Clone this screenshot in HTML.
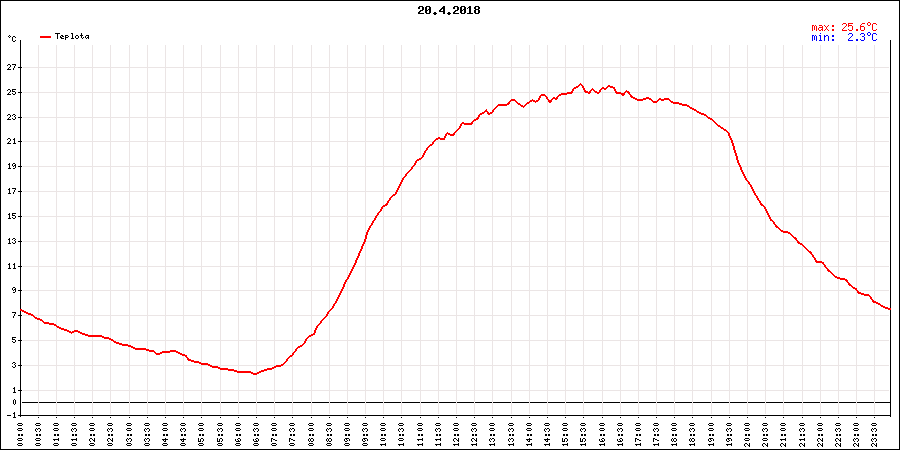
<!DOCTYPE html>
<html><head><meta charset="utf-8"><title>20.4.2018</title>
<style>html,body{margin:0;padding:0;background:#fff;font-family:"Liberation Sans",sans-serif;}svg{display:block}</style>
</head><body><svg width="900" height="450" viewBox="0 0 900 450" shape-rendering="crispEdges" role="img" aria-label="20.4.2018 Teplota"><desc>20.4.2018 — Teplota (°C). max: 25.6°C, min: 2.3°C. Osa Y: -1 až 27 °C. Osa X: 00:00 00:30 01:00 01:30 02:00 02:30 03:00 03:30 04:00 04:30 05:00 05:30 06:00 06:30 07:00 07:30 08:00 08:30 09:00 09:30 10:00 10:30 11:00 11:30 12:00 12:30 13:00 13:30 14:00 14:30 15:00 15:30 16:00 16:30 17:00 17:30 18:00 18:30 19:00 19:30 20:00 20:30 21:00 21:30 22:00 22:30 23:00 23:30</desc><rect x="0" y="0" width="900" height="1" fill="#000"/><rect x="0" y="449" width="900" height="1" fill="#000"/><rect x="0" y="0" width="1" height="450" fill="#000"/><rect x="899" y="0" width="1" height="450" fill="#000"/><rect x="22" y="402" width="869" height="1" fill="#000"/><path d="M23 67h866v1h-866zM23 92h866v1h-866zM23 117h866v1h-866zM23 141h866v1h-866zM23 166h866v1h-866zM23 191h866v1h-866zM23 216h866v1h-866zM23 241h866v1h-866zM23 266h866v1h-866zM23 290h866v1h-866zM23 315h866v1h-866zM23 340h866v1h-866zM23 365h866v1h-866zM23 390h866v1h-866zM38 45h1v369h-1zM56 45h1v369h-1zM74 45h1v369h-1zM92 45h1v369h-1zM110 45h1v369h-1zM129 45h1v369h-1zM147 45h1v369h-1zM165 45h1v369h-1zM183 45h1v369h-1zM201 45h1v369h-1zM220 45h1v369h-1zM238 45h1v369h-1zM256 45h1v369h-1zM274 45h1v369h-1zM292 45h1v369h-1zM311 45h1v369h-1zM329 45h1v369h-1zM347 45h1v369h-1zM365 45h1v369h-1zM383 45h1v369h-1zM401 45h1v369h-1zM420 45h1v369h-1zM438 45h1v369h-1zM456 45h1v369h-1zM474 45h1v369h-1zM492 45h1v369h-1zM511 45h1v369h-1zM529 45h1v369h-1zM547 45h1v369h-1zM565 45h1v369h-1zM583 45h1v369h-1zM602 45h1v369h-1zM620 45h1v369h-1zM638 45h1v369h-1zM656 45h1v369h-1zM674 45h1v369h-1zM692 45h1v369h-1zM711 45h1v369h-1zM729 45h1v369h-1zM747 45h1v369h-1zM765 45h1v369h-1zM783 45h1v369h-1zM802 45h1v369h-1zM820 45h1v369h-1zM838 45h1v369h-1zM856 45h1v369h-1zM874 45h1v369h-1z" fill="#ebe5e5"/><path d="M20 40h1v377h-1zM890 40h1v377h-1zM18 415h873v1h-873zM18 67h4v1h-4zM18 92h4v1h-4zM18 117h4v1h-4zM18 141h4v1h-4zM18 166h4v1h-4zM18 191h4v1h-4zM18 216h4v1h-4zM18 241h4v1h-4zM18 266h4v1h-4zM18 290h4v1h-4zM18 315h4v1h-4zM18 340h4v1h-4zM18 365h4v1h-4zM18 390h4v1h-4zM18 415h4v1h-4zM38 417h1v1h-1zM56 417h1v1h-1zM74 417h1v1h-1zM92 417h1v1h-1zM110 417h1v1h-1zM129 417h1v1h-1zM147 417h1v1h-1zM165 417h1v1h-1zM183 417h1v1h-1zM201 417h1v1h-1zM220 417h1v1h-1zM238 417h1v1h-1zM256 417h1v1h-1zM274 417h1v1h-1zM292 417h1v1h-1zM311 417h1v1h-1zM329 417h1v1h-1zM347 417h1v1h-1zM365 417h1v1h-1zM383 417h1v1h-1zM401 417h1v1h-1zM420 417h1v1h-1zM438 417h1v1h-1zM456 417h1v1h-1zM474 417h1v1h-1zM492 417h1v1h-1zM511 417h1v1h-1zM529 417h1v1h-1zM547 417h1v1h-1zM565 417h1v1h-1zM583 417h1v1h-1zM602 417h1v1h-1zM620 417h1v1h-1zM638 417h1v1h-1zM656 417h1v1h-1zM674 417h1v1h-1zM692 417h1v1h-1zM711 417h1v1h-1zM729 417h1v1h-1zM747 417h1v1h-1zM765 417h1v1h-1zM783 417h1v1h-1zM802 417h1v1h-1zM820 417h1v1h-1zM838 417h1v1h-1zM856 417h1v1h-1zM874 417h1v1h-1z" fill="#000"/><path d="M580 83h1v1h-1zM579 84h3v1h-3zM578 85h2v1h-2zM581 85h2v1h-2zM608 85h2v1h-2zM576 86h3v1h-3zM582 86h2v1h-2zM607 86h6v1h-6zM574 87h4v1h-4zM582 87h2v1h-2zM602 87h2v1h-2zM606 87h2v1h-2zM610 87h5v1h-5zM573 88h3v1h-3zM583 88h2v1h-2zM592 88h1v1h-1zM601 88h6v1h-6zM613 88h2v1h-2zM572 89h2v1h-2zM583 89h2v1h-2zM591 89h3v1h-3zM600 89h2v1h-2zM604 89h2v1h-2zM614 89h2v1h-2zM572 90h2v1h-2zM584 90h2v1h-2zM590 90h2v1h-2zM593 90h2v1h-2zM599 90h2v1h-2zM614 90h2v1h-2zM626 90h1v1h-1zM571 91h2v1h-2zM584 91h4v1h-4zM589 91h2v1h-2zM594 91h3v1h-3zM599 91h2v1h-2zM615 91h2v1h-2zM625 91h4v1h-4zM567 92h6v1h-6zM585 92h6v1h-6zM595 92h5v1h-5zM615 92h6v1h-6zM624 92h2v1h-2zM627 92h3v1h-3zM561 93h11v1h-11zM588 93h2v1h-2zM597 93h2v1h-2zM616 93h9v1h-9zM628 93h2v1h-2zM541 94h4v1h-4zM559 94h8v1h-8zM621 94h4v1h-4zM629 94h2v1h-2zM540 95h6v1h-6zM558 95h3v1h-3zM622 95h2v1h-2zM630 95h2v1h-2zM539 96h2v1h-2zM545 96h2v1h-2zM557 96h2v1h-2zM630 96h3v1h-3zM539 97h2v1h-2zM546 97h2v1h-2zM553 97h2v1h-2zM556 97h2v1h-2zM631 97h4v1h-4zM646 97h3v1h-3zM538 98h2v1h-2zM546 98h2v1h-2zM552 98h6v1h-6zM633 98h4v1h-4zM643 98h8v1h-8zM659 98h2v1h-2zM664 98h5v1h-5zM511 99h4v1h-4zM532 99h1v1h-1zM538 99h2v1h-2zM547 99h2v1h-2zM551 99h2v1h-2zM555 99h2v1h-2zM635 99h11v1h-11zM649 99h3v1h-3zM658 99h12v1h-12zM510 100h6v1h-6zM530 100h5v1h-5zM536 100h3v1h-3zM548 100h4v1h-4zM637 100h6v1h-6zM651 100h2v1h-2zM657 100h2v1h-2zM661 100h3v1h-3zM669 100h2v1h-2zM509 101h2v1h-2zM515 101h2v1h-2zM529 101h3v1h-3zM533 101h5v1h-5zM548 101h4v1h-4zM652 101h6v1h-6zM670 101h3v1h-3zM508 102h2v1h-2zM516 102h2v1h-2zM527 102h3v1h-3zM535 102h1v1h-1zM549 102h2v1h-2zM653 102h4v1h-4zM671 102h8v1h-8zM507 103h3v1h-3zM517 103h3v1h-3zM526 103h3v1h-3zM673 103h9v1h-9zM498 104h11v1h-11zM518 104h3v1h-3zM525 104h2v1h-2zM679 104h8v1h-8zM497 105h10v1h-10zM520 105h3v1h-3zM524 105h2v1h-2zM682 105h7v1h-7zM496 106h2v1h-2zM521 106h4v1h-4zM687 106h3v1h-3zM495 107h2v1h-2zM523 107h1v1h-1zM689 107h3v1h-3zM494 108h2v1h-2zM690 108h4v1h-4zM486 109h1v1h-1zM493 109h2v1h-2zM692 109h4v1h-4zM485 110h2v1h-2zM492 110h2v1h-2zM694 110h3v1h-3zM484 111h4v1h-4zM492 111h2v1h-2zM696 111h3v1h-3zM482 112h3v1h-3zM487 112h2v1h-2zM490 112h3v1h-3zM697 112h4v1h-4zM480 113h4v1h-4zM487 113h5v1h-5zM699 113h5v1h-5zM479 114h3v1h-3zM488 114h2v1h-2zM701 114h5v1h-5zM478 115h2v1h-2zM704 115h3v1h-3zM478 116h2v1h-2zM706 116h2v1h-2zM477 117h2v1h-2zM707 117h3v1h-3zM476 118h3v1h-3zM708 118h4v1h-4zM474 119h4v1h-4zM710 119h3v1h-3zM473 120h3v1h-3zM712 120h2v1h-2zM472 121h2v1h-2zM713 121h2v1h-2zM462 122h2v1h-2zM471 122h2v1h-2zM714 122h2v1h-2zM461 123h12v1h-12zM715 123h2v1h-2zM460 124h2v1h-2zM464 124h8v1h-8zM716 124h2v1h-2zM460 125h2v1h-2zM717 125h3v1h-3zM459 126h2v1h-2zM718 126h3v1h-3zM459 127h2v1h-2zM720 127h3v1h-3zM458 128h2v1h-2zM721 128h3v1h-3zM457 129h2v1h-2zM723 129h3v1h-3zM456 130h2v1h-2zM724 130h3v1h-3zM455 131h2v1h-2zM726 131h2v1h-2zM447 132h1v1h-1zM454 132h2v1h-2zM727 132h2v1h-2zM446 133h4v1h-4zM453 133h2v1h-2zM728 133h2v1h-2zM445 134h2v1h-2zM448 134h7v1h-7zM728 134h2v1h-2zM445 135h2v1h-2zM450 135h4v1h-4zM728 135h2v1h-2zM444 136h2v1h-2zM729 136h2v1h-2zM438 137h2v1h-2zM444 137h2v1h-2zM729 137h2v1h-2zM436 138h9v1h-9zM730 138h2v1h-2zM435 139h3v1h-3zM440 139h5v1h-5zM730 139h2v1h-2zM434 140h2v1h-2zM731 140h2v1h-2zM433 141h2v1h-2zM731 141h2v1h-2zM432 142h2v1h-2zM731 142h2v1h-2zM432 143h2v1h-2zM732 143h2v1h-2zM430 144h3v1h-3zM732 144h2v1h-2zM429 145h3v1h-3zM732 145h2v1h-2zM428 146h2v1h-2zM733 146h2v1h-2zM427 147h2v1h-2zM733 147h2v1h-2zM426 148h2v1h-2zM733 148h2v1h-2zM426 149h2v1h-2zM733 149h2v1h-2zM425 150h2v1h-2zM734 150h2v1h-2zM424 151h2v1h-2zM734 151h2v1h-2zM424 152h2v1h-2zM734 152h2v1h-2zM423 153h2v1h-2zM735 153h2v1h-2zM423 154h2v1h-2zM735 154h2v1h-2zM422 155h2v1h-2zM735 155h2v1h-2zM422 156h2v1h-2zM736 156h2v1h-2zM421 157h2v1h-2zM736 157h2v1h-2zM419 158h3v1h-3zM736 158h2v1h-2zM417 159h4v1h-4zM736 159h2v1h-2zM416 160h3v1h-3zM737 160h2v1h-2zM415 161h2v1h-2zM737 161h2v1h-2zM415 162h2v1h-2zM737 162h2v1h-2zM414 163h2v1h-2zM738 163h2v1h-2zM414 164h2v1h-2zM738 164h2v1h-2zM413 165h2v1h-2zM739 165h2v1h-2zM412 166h2v1h-2zM739 166h2v1h-2zM411 167h2v1h-2zM740 167h2v1h-2zM411 168h2v1h-2zM740 168h2v1h-2zM410 169h2v1h-2zM740 169h2v1h-2zM409 170h2v1h-2zM741 170h2v1h-2zM408 171h2v1h-2zM741 171h2v1h-2zM407 172h2v1h-2zM742 172h2v1h-2zM406 173h2v1h-2zM742 173h2v1h-2zM405 174h2v1h-2zM743 174h2v1h-2zM405 175h2v1h-2zM743 175h2v1h-2zM404 176h2v1h-2zM744 176h2v1h-2zM403 177h2v1h-2zM744 177h2v1h-2zM402 178h2v1h-2zM745 178h2v1h-2zM402 179h2v1h-2zM745 179h2v1h-2zM401 180h2v1h-2zM746 180h2v1h-2zM401 181h2v1h-2zM747 181h2v1h-2zM400 182h2v1h-2zM748 182h2v1h-2zM400 183h2v1h-2zM748 183h2v1h-2zM399 184h2v1h-2zM749 184h2v1h-2zM399 185h2v1h-2zM750 185h2v1h-2zM398 186h2v1h-2zM750 186h2v1h-2zM398 187h2v1h-2zM751 187h2v1h-2zM397 188h2v1h-2zM751 188h2v1h-2zM397 189h2v1h-2zM752 189h2v1h-2zM396 190h2v1h-2zM752 190h2v1h-2zM396 191h2v1h-2zM753 191h2v1h-2zM395 192h2v1h-2zM753 192h2v1h-2zM395 193h2v1h-2zM754 193h2v1h-2zM393 194h3v1h-3zM754 194h2v1h-2zM392 195h3v1h-3zM755 195h2v1h-2zM391 196h2v1h-2zM756 196h2v1h-2zM390 197h2v1h-2zM756 197h2v1h-2zM389 198h2v1h-2zM757 198h2v1h-2zM389 199h2v1h-2zM757 199h2v1h-2zM388 200h2v1h-2zM758 200h2v1h-2zM387 201h2v1h-2zM759 201h2v1h-2zM387 202h2v1h-2zM759 202h2v1h-2zM386 203h2v1h-2zM760 203h2v1h-2zM385 204h3v1h-3zM760 204h3v1h-3zM383 205h4v1h-4zM761 205h3v1h-3zM382 206h3v1h-3zM763 206h2v1h-2zM381 207h2v1h-2zM764 207h2v1h-2zM381 208h2v1h-2zM764 208h2v1h-2zM380 209h2v1h-2zM765 209h2v1h-2zM380 210h2v1h-2zM765 210h2v1h-2zM379 211h2v1h-2zM766 211h2v1h-2zM378 212h2v1h-2zM766 212h2v1h-2zM377 213h2v1h-2zM767 213h2v1h-2zM377 214h2v1h-2zM767 214h2v1h-2zM376 215h2v1h-2zM768 215h2v1h-2zM375 216h2v1h-2zM768 216h2v1h-2zM375 217h2v1h-2zM769 217h2v1h-2zM374 218h2v1h-2zM769 218h2v1h-2zM374 219h2v1h-2zM770 219h2v1h-2zM373 220h2v1h-2zM770 220h3v1h-3zM372 221h2v1h-2zM772 221h2v1h-2zM372 222h2v1h-2zM773 222h2v1h-2zM371 223h2v1h-2zM773 223h2v1h-2zM371 224h2v1h-2zM774 224h2v1h-2zM370 225h2v1h-2zM775 225h2v1h-2zM369 226h2v1h-2zM775 226h3v1h-3zM369 227h2v1h-2zM776 227h3v1h-3zM368 228h2v1h-2zM778 228h2v1h-2zM368 229h2v1h-2zM779 229h2v1h-2zM367 230h2v1h-2zM780 230h3v1h-3zM367 231h2v1h-2zM781 231h7v1h-7zM366 232h2v1h-2zM783 232h7v1h-7zM366 233h2v1h-2zM788 233h3v1h-3zM366 234h2v1h-2zM790 234h2v1h-2zM365 235h2v1h-2zM791 235h2v1h-2zM365 236h2v1h-2zM792 236h2v1h-2zM365 237h2v1h-2zM793 237h3v1h-3zM365 238h2v1h-2zM794 238h3v1h-3zM364 239h2v1h-2zM795 239h2v1h-2zM364 240h2v1h-2zM796 240h2v1h-2zM364 241h2v1h-2zM797 241h2v1h-2zM363 242h2v1h-2zM797 242h3v1h-3zM363 243h2v1h-2zM798 243h4v1h-4zM362 244h2v1h-2zM800 244h3v1h-3zM362 245h2v1h-2zM802 245h2v1h-2zM361 246h2v1h-2zM803 246h2v1h-2zM361 247h2v1h-2zM804 247h2v1h-2zM361 248h2v1h-2zM805 248h2v1h-2zM360 249h2v1h-2zM806 249h2v1h-2zM360 250h2v1h-2zM807 250h2v1h-2zM359 251h2v1h-2zM808 251h3v1h-3zM359 252h2v1h-2zM809 252h3v1h-3zM358 253h2v1h-2zM810 253h2v1h-2zM358 254h2v1h-2zM811 254h2v1h-2zM358 255h2v1h-2zM812 255h2v1h-2zM357 256h2v1h-2zM812 256h2v1h-2zM357 257h2v1h-2zM813 257h2v1h-2zM356 258h2v1h-2zM814 258h2v1h-2zM356 259h2v1h-2zM814 259h2v1h-2zM355 260h2v1h-2zM815 260h2v1h-2zM355 261h2v1h-2zM815 261h7v1h-7zM355 262h2v1h-2zM816 262h8v1h-8zM354 263h2v1h-2zM822 263h2v1h-2zM354 264h2v1h-2zM823 264h2v1h-2zM353 265h2v1h-2zM824 265h2v1h-2zM353 266h2v1h-2zM824 266h2v1h-2zM352 267h2v1h-2zM825 267h2v1h-2zM352 268h2v1h-2zM826 268h2v1h-2zM351 269h2v1h-2zM827 269h2v1h-2zM351 270h2v1h-2zM827 270h3v1h-3zM350 271h2v1h-2zM828 271h3v1h-3zM350 272h2v1h-2zM830 272h2v1h-2zM349 273h2v1h-2zM831 273h2v1h-2zM349 274h2v1h-2zM832 274h2v1h-2zM348 275h2v1h-2zM833 275h2v1h-2zM348 276h2v1h-2zM834 276h3v1h-3zM347 277h2v1h-2zM835 277h5v1h-5zM347 278h2v1h-2zM837 278h8v1h-8zM346 279h2v1h-2zM840 279h7v1h-7zM345 280h2v1h-2zM845 280h3v1h-3zM345 281h2v1h-2zM846 281h2v1h-2zM344 282h2v1h-2zM847 282h2v1h-2zM344 283h2v1h-2zM848 283h2v1h-2zM343 284h2v1h-2zM848 284h3v1h-3zM343 285h2v1h-2zM849 285h3v1h-3zM343 286h2v1h-2zM851 286h2v1h-2zM342 287h2v1h-2zM852 287h3v1h-3zM342 288h2v1h-2zM853 288h4v1h-4zM341 289h2v1h-2zM855 289h2v1h-2zM341 290h2v1h-2zM856 290h2v1h-2zM340 291h2v1h-2zM857 291h2v1h-2zM340 292h2v1h-2zM857 292h4v1h-4zM339 293h2v1h-2zM858 293h6v1h-6zM339 294h2v1h-2zM861 294h8v1h-8zM338 295h2v1h-2zM864 295h6v1h-6zM338 296h2v1h-2zM869 296h2v1h-2zM337 297h2v1h-2zM870 297h2v1h-2zM337 298h2v1h-2zM870 298h2v1h-2zM336 299h2v1h-2zM871 299h2v1h-2zM336 300h2v1h-2zM872 300h2v1h-2zM335 301h2v1h-2zM872 301h4v1h-4zM335 302h2v1h-2zM873 302h5v1h-5zM334 303h2v1h-2zM876 303h4v1h-4zM333 304h2v1h-2zM878 304h3v1h-3zM333 305h2v1h-2zM880 305h3v1h-3zM332 306h2v1h-2zM881 306h4v1h-4zM332 307h2v1h-2zM883 307h5v1h-5zM331 308h2v1h-2zM885 308h6v1h-6zM20 309h2v1h-2zM330 309h2v1h-2zM888 309h3v1h-3zM20 310h4v1h-4zM329 310h2v1h-2zM22 311h4v1h-4zM328 311h2v1h-2zM24 312h4v1h-4zM327 312h2v1h-2zM26 313h5v1h-5zM327 313h2v1h-2zM28 314h5v1h-5zM326 314h2v1h-2zM31 315h3v1h-3zM326 315h2v1h-2zM33 316h2v1h-2zM325 316h2v1h-2zM34 317h3v1h-3zM324 317h2v1h-2zM35 318h5v1h-5zM323 318h2v1h-2zM37 319h5v1h-5zM322 319h2v1h-2zM40 320h3v1h-3zM321 320h2v1h-2zM42 321h2v1h-2zM320 321h2v1h-2zM43 322h6v1h-6zM320 322h2v1h-2zM44 323h10v1h-10zM319 323h2v1h-2zM49 324h7v1h-7zM318 324h2v1h-2zM54 325h3v1h-3zM317 325h2v1h-2zM56 326h3v1h-3zM316 326h2v1h-2zM57 327h4v1h-4zM316 327h2v1h-2zM59 328h5v1h-5zM315 328h2v1h-2zM61 329h6v1h-6zM315 329h2v1h-2zM64 330h5v1h-5zM74 330h4v1h-4zM314 330h2v1h-2zM67 331h4v1h-4zM72 331h8v1h-8zM314 331h2v1h-2zM69 332h5v1h-5zM78 332h4v1h-4zM314 332h2v1h-2zM71 333h1v1h-1zM80 333h5v1h-5zM313 333h2v1h-2zM82 334h6v1h-6zM311 334h4v1h-4zM85 335h17v1h-17zM309 335h4v1h-4zM88 336h16v1h-16zM308 336h3v1h-3zM102 337h7v1h-7zM307 337h2v1h-2zM104 338h7v1h-7zM306 338h2v1h-2zM109 339h4v1h-4zM305 339h2v1h-2zM111 340h3v1h-3zM305 340h2v1h-2zM113 341h3v1h-3zM304 341h2v1h-2zM114 342h5v1h-5zM304 342h2v1h-2zM116 343h6v1h-6zM303 343h2v1h-2zM119 344h9v1h-9zM302 344h2v1h-2zM122 345h9v1h-9zM300 345h3v1h-3zM128 346h5v1h-5zM298 346h4v1h-4zM131 347h4v1h-4zM297 347h3v1h-3zM133 348h13v1h-13zM296 348h2v1h-2zM135 349h14v1h-14zM295 349h2v1h-2zM146 350h8v1h-8zM170 350h6v1h-6zM295 350h2v1h-2zM149 351h6v1h-6zM162 351h16v1h-16zM294 351h2v1h-2zM154 352h2v1h-2zM160 352h10v1h-10zM176 352h4v1h-4zM293 352h2v1h-2zM155 353h7v1h-7zM178 353h4v1h-4zM292 353h2v1h-2zM156 354h4v1h-4zM180 354h5v1h-5zM292 354h2v1h-2zM182 355h5v1h-5zM290 355h3v1h-3zM185 356h2v1h-2zM289 356h3v1h-3zM186 357h2v1h-2zM288 357h2v1h-2zM187 358h2v1h-2zM287 358h2v1h-2zM187 359h4v1h-4zM286 359h2v1h-2zM188 360h6v1h-6zM286 360h2v1h-2zM191 361h8v1h-8zM285 361h2v1h-2zM194 362h7v1h-7zM284 362h2v1h-2zM199 363h9v1h-9zM283 363h2v1h-2zM201 364h9v1h-9zM281 364h3v1h-3zM208 365h4v1h-4zM276 365h7v1h-7zM210 366h8v1h-8zM274 366h7v1h-7zM212 367h8v1h-8zM272 367h4v1h-4zM218 368h10v1h-10zM267 368h7v1h-7zM220 369h14v1h-14zM264 369h8v1h-8zM228 370h9v1h-9zM261 370h6v1h-6zM234 371h17v1h-17zM259 371h5v1h-5zM237 372h16v1h-16zM257 372h4v1h-4zM251 373h8v1h-8zM253 374h4v1h-4z" fill="#ff0000"/><path d="M419 6h4v1h-4zM426 6h4v1h-4zM443 6h2v1h-2zM454 6h4v1h-4zM461 6h4v1h-4zM469 6h2v1h-2zM475 6h4v1h-4zM418 7h2v1h-2zM422 7h2v1h-2zM425 7h2v1h-2zM429 7h2v1h-2zM442 7h3v1h-3zM453 7h2v1h-2zM457 7h2v1h-2zM460 7h2v1h-2zM464 7h2v1h-2zM468 7h3v1h-3zM474 7h2v1h-2zM478 7h2v1h-2zM418 8h2v1h-2zM422 8h2v1h-2zM425 8h2v1h-2zM429 8h2v1h-2zM441 8h4v1h-4zM453 8h2v1h-2zM457 8h2v1h-2zM460 8h2v1h-2zM464 8h2v1h-2zM467 8h1v1h-1zM469 8h2v1h-2zM474 8h2v1h-2zM478 8h2v1h-2zM422 9h2v1h-2zM425 9h2v1h-2zM428 9h3v1h-3zM440 9h2v1h-2zM443 9h2v1h-2zM457 9h2v1h-2zM460 9h2v1h-2zM463 9h3v1h-3zM469 9h2v1h-2zM475 9h4v1h-4zM420 10h3v1h-3zM425 10h3v1h-3zM429 10h2v1h-2zM439 10h2v1h-2zM443 10h2v1h-2zM455 10h3v1h-3zM460 10h3v1h-3zM464 10h2v1h-2zM469 10h2v1h-2zM474 10h2v1h-2zM478 10h2v1h-2zM419 11h2v1h-2zM425 11h2v1h-2zM429 11h2v1h-2zM439 11h6v1h-6zM454 11h2v1h-2zM460 11h2v1h-2zM464 11h2v1h-2zM469 11h2v1h-2zM474 11h2v1h-2zM478 11h2v1h-2zM418 12h2v1h-2zM425 12h2v1h-2zM429 12h2v1h-2zM434 12h2v1h-2zM443 12h2v1h-2zM448 12h2v1h-2zM453 12h2v1h-2zM460 12h2v1h-2zM464 12h2v1h-2zM469 12h2v1h-2zM474 12h2v1h-2zM478 12h2v1h-2zM418 13h6v1h-6zM426 13h4v1h-4zM433 13h4v1h-4zM443 13h2v1h-2zM447 13h4v1h-4zM453 13h6v1h-6zM461 13h4v1h-4zM467 13h6v1h-6zM475 13h4v1h-4zM434 14h2v1h-2zM448 14h2v1h-2zM55 33h5v1h-5zM71 33h2v1h-2zM81 33h1v1h-1zM57 34h1v1h-1zM72 34h1v1h-1zM81 34h1v1h-1zM9 35h1v1h-1zM57 35h1v1h-1zM61 35h2v1h-2zM65 35h3v1h-3zM72 35h1v1h-1zM76 35h2v1h-2zM80 35h3v1h-3zM86 35h3v1h-3zM8 36h1v1h-1zM10 36h1v1h-1zM13 36h2v1h-2zM57 36h1v1h-1zM60 36h1v1h-1zM62 36h2v1h-2zM65 36h1v1h-1zM68 36h1v1h-1zM72 36h1v1h-1zM75 36h1v1h-1zM78 36h1v1h-1zM81 36h1v1h-1zM85 36h1v1h-1zM88 36h1v1h-1zM9 37h1v1h-1zM12 37h1v1h-1zM15 37h1v1h-1zM57 37h1v1h-1zM60 37h2v1h-2zM65 37h3v1h-3zM72 37h1v1h-1zM75 37h1v1h-1zM78 37h1v1h-1zM81 37h1v1h-1zM83 37h1v1h-1zM85 37h1v1h-1zM87 37h2v1h-2zM12 38h1v1h-1zM57 38h1v1h-1zM61 38h3v1h-3zM65 38h1v1h-1zM71 38h3v1h-3zM76 38h2v1h-2zM82 38h1v1h-1zM86 38h1v1h-1zM88 38h1v1h-1zM12 39h1v1h-1zM65 39h1v1h-1zM12 40h1v1h-1zM15 40h1v1h-1zM13 41h2v1h-2zM8 64h2v1h-2zM12 64h4v1h-4zM7 65h1v1h-1zM10 65h1v1h-1zM15 65h1v1h-1zM10 66h1v1h-1zM14 66h1v1h-1zM9 67h1v1h-1zM14 67h1v1h-1zM8 68h1v1h-1zM13 68h1v1h-1zM7 69h4v1h-4zM13 69h1v1h-1zM8 89h2v1h-2zM12 89h4v1h-4zM7 90h1v1h-1zM10 90h1v1h-1zM12 90h1v1h-1zM10 91h1v1h-1zM12 91h3v1h-3zM9 92h1v1h-1zM15 92h1v1h-1zM8 93h1v1h-1zM12 93h1v1h-1zM15 93h1v1h-1zM7 94h4v1h-4zM13 94h2v1h-2zM8 114h2v1h-2zM13 114h2v1h-2zM7 115h1v1h-1zM10 115h1v1h-1zM12 115h1v1h-1zM15 115h1v1h-1zM10 116h1v1h-1zM14 116h1v1h-1zM9 117h1v1h-1zM15 117h1v1h-1zM8 118h1v1h-1zM12 118h1v1h-1zM15 118h1v1h-1zM7 119h4v1h-4zM13 119h2v1h-2zM8 138h2v1h-2zM14 138h1v1h-1zM7 139h1v1h-1zM10 139h1v1h-1zM13 139h2v1h-2zM10 140h1v1h-1zM14 140h1v1h-1zM9 141h1v1h-1zM14 141h1v1h-1zM8 142h1v1h-1zM14 142h1v1h-1zM7 143h4v1h-4zM13 143h3v1h-3zM9 163h1v1h-1zM13 163h2v1h-2zM8 164h2v1h-2zM12 164h1v1h-1zM15 164h1v1h-1zM9 165h1v1h-1zM12 165h1v1h-1zM14 165h2v1h-2zM9 166h1v1h-1zM13 166h1v1h-1zM15 166h1v1h-1zM9 167h1v1h-1zM15 167h1v1h-1zM8 168h3v1h-3zM13 168h2v1h-2zM9 188h1v1h-1zM12 188h4v1h-4zM8 189h2v1h-2zM15 189h1v1h-1zM9 190h1v1h-1zM14 190h1v1h-1zM9 191h1v1h-1zM14 191h1v1h-1zM9 192h1v1h-1zM13 192h1v1h-1zM8 193h3v1h-3zM13 193h1v1h-1zM9 213h1v1h-1zM12 213h4v1h-4zM8 214h2v1h-2zM12 214h1v1h-1zM9 215h1v1h-1zM12 215h3v1h-3zM9 216h1v1h-1zM15 216h1v1h-1zM9 217h1v1h-1zM12 217h1v1h-1zM15 217h1v1h-1zM8 218h3v1h-3zM13 218h2v1h-2zM9 238h1v1h-1zM13 238h2v1h-2zM8 239h2v1h-2zM12 239h1v1h-1zM15 239h1v1h-1zM9 240h1v1h-1zM14 240h1v1h-1zM9 241h1v1h-1zM15 241h1v1h-1zM9 242h1v1h-1zM12 242h1v1h-1zM15 242h1v1h-1zM8 243h3v1h-3zM13 243h2v1h-2zM9 263h1v1h-1zM14 263h1v1h-1zM8 264h2v1h-2zM13 264h2v1h-2zM9 265h1v1h-1zM14 265h1v1h-1zM9 266h1v1h-1zM14 266h1v1h-1zM9 267h1v1h-1zM14 267h1v1h-1zM8 268h3v1h-3zM13 268h3v1h-3zM13 287h2v1h-2zM12 288h1v1h-1zM15 288h1v1h-1zM12 289h1v1h-1zM14 289h2v1h-2zM13 290h1v1h-1zM15 290h1v1h-1zM15 291h1v1h-1zM13 292h2v1h-2zM12 312h4v1h-4zM15 313h1v1h-1zM14 314h1v1h-1zM14 315h1v1h-1zM13 316h1v1h-1zM13 317h1v1h-1zM12 337h4v1h-4zM12 338h1v1h-1zM12 339h3v1h-3zM15 340h1v1h-1zM12 341h1v1h-1zM15 341h1v1h-1zM13 342h2v1h-2zM13 362h2v1h-2zM12 363h1v1h-1zM15 363h1v1h-1zM14 364h1v1h-1zM15 365h1v1h-1zM12 366h1v1h-1zM15 366h1v1h-1zM13 367h2v1h-2zM14 387h1v1h-1zM13 388h2v1h-2zM14 389h1v1h-1zM14 390h1v1h-1zM14 391h1v1h-1zM13 392h3v1h-3zM14 399h1v1h-1zM13 400h1v1h-1zM15 400h1v1h-1zM13 401h1v1h-1zM15 401h1v1h-1zM13 402h1v1h-1zM15 402h1v1h-1zM13 403h1v1h-1zM15 403h1v1h-1zM14 404h1v1h-1zM14 412h1v1h-1zM13 413h2v1h-2zM14 414h1v1h-1zM7 415h4v1h-4zM14 415h1v1h-1zM14 416h1v1h-1zM13 417h3v1h-3zM18 423h4v1h-4zM36 423h4v1h-4zM54 423h4v1h-4zM72 423h4v1h-4zM90 423h4v1h-4zM108 423h4v1h-4zM127 423h4v1h-4zM145 423h4v1h-4zM163 423h4v1h-4zM181 423h4v1h-4zM199 423h4v1h-4zM218 423h4v1h-4zM236 423h4v1h-4zM254 423h4v1h-4zM272 423h4v1h-4zM290 423h4v1h-4zM309 423h4v1h-4zM327 423h4v1h-4zM345 423h4v1h-4zM363 423h4v1h-4zM381 423h4v1h-4zM399 423h4v1h-4zM418 423h4v1h-4zM436 423h4v1h-4zM454 423h4v1h-4zM472 423h4v1h-4zM490 423h4v1h-4zM509 423h4v1h-4zM527 423h4v1h-4zM545 423h4v1h-4zM563 423h4v1h-4zM581 423h4v1h-4zM600 423h4v1h-4zM618 423h4v1h-4zM636 423h4v1h-4zM654 423h4v1h-4zM672 423h4v1h-4zM690 423h4v1h-4zM709 423h4v1h-4zM727 423h4v1h-4zM745 423h4v1h-4zM763 423h4v1h-4zM781 423h4v1h-4zM800 423h4v1h-4zM818 423h4v1h-4zM836 423h4v1h-4zM854 423h4v1h-4zM872 423h4v1h-4zM17 424h1v1h-1zM22 424h1v1h-1zM35 424h1v1h-1zM40 424h1v1h-1zM53 424h1v1h-1zM58 424h1v1h-1zM71 424h1v1h-1zM76 424h1v1h-1zM89 424h1v1h-1zM94 424h1v1h-1zM107 424h1v1h-1zM112 424h1v1h-1zM126 424h1v1h-1zM131 424h1v1h-1zM144 424h1v1h-1zM149 424h1v1h-1zM162 424h1v1h-1zM167 424h1v1h-1zM180 424h1v1h-1zM185 424h1v1h-1zM198 424h1v1h-1zM203 424h1v1h-1zM217 424h1v1h-1zM222 424h1v1h-1zM235 424h1v1h-1zM240 424h1v1h-1zM253 424h1v1h-1zM258 424h1v1h-1zM271 424h1v1h-1zM276 424h1v1h-1zM289 424h1v1h-1zM294 424h1v1h-1zM308 424h1v1h-1zM313 424h1v1h-1zM326 424h1v1h-1zM331 424h1v1h-1zM344 424h1v1h-1zM349 424h1v1h-1zM362 424h1v1h-1zM367 424h1v1h-1zM380 424h1v1h-1zM385 424h1v1h-1zM398 424h1v1h-1zM403 424h1v1h-1zM417 424h1v1h-1zM422 424h1v1h-1zM435 424h1v1h-1zM440 424h1v1h-1zM453 424h1v1h-1zM458 424h1v1h-1zM471 424h1v1h-1zM476 424h1v1h-1zM489 424h1v1h-1zM494 424h1v1h-1zM508 424h1v1h-1zM513 424h1v1h-1zM526 424h1v1h-1zM531 424h1v1h-1zM544 424h1v1h-1zM549 424h1v1h-1zM562 424h1v1h-1zM567 424h1v1h-1zM580 424h1v1h-1zM585 424h1v1h-1zM599 424h1v1h-1zM604 424h1v1h-1zM617 424h1v1h-1zM622 424h1v1h-1zM635 424h1v1h-1zM640 424h1v1h-1zM653 424h1v1h-1zM658 424h1v1h-1zM671 424h1v1h-1zM676 424h1v1h-1zM689 424h1v1h-1zM694 424h1v1h-1zM708 424h1v1h-1zM713 424h1v1h-1zM726 424h1v1h-1zM731 424h1v1h-1zM744 424h1v1h-1zM749 424h1v1h-1zM762 424h1v1h-1zM767 424h1v1h-1zM780 424h1v1h-1zM785 424h1v1h-1zM799 424h1v1h-1zM804 424h1v1h-1zM817 424h1v1h-1zM822 424h1v1h-1zM835 424h1v1h-1zM840 424h1v1h-1zM853 424h1v1h-1zM858 424h1v1h-1zM871 424h1v1h-1zM876 424h1v1h-1zM18 425h4v1h-4zM36 425h4v1h-4zM54 425h4v1h-4zM72 425h4v1h-4zM90 425h4v1h-4zM108 425h4v1h-4zM127 425h4v1h-4zM145 425h4v1h-4zM163 425h4v1h-4zM181 425h4v1h-4zM199 425h4v1h-4zM218 425h4v1h-4zM236 425h4v1h-4zM254 425h4v1h-4zM272 425h4v1h-4zM290 425h4v1h-4zM309 425h4v1h-4zM327 425h4v1h-4zM345 425h4v1h-4zM363 425h4v1h-4zM381 425h4v1h-4zM399 425h4v1h-4zM418 425h4v1h-4zM436 425h4v1h-4zM454 425h4v1h-4zM472 425h4v1h-4zM490 425h4v1h-4zM509 425h4v1h-4zM527 425h4v1h-4zM545 425h4v1h-4zM563 425h4v1h-4zM581 425h4v1h-4zM600 425h4v1h-4zM618 425h4v1h-4zM636 425h4v1h-4zM654 425h4v1h-4zM672 425h4v1h-4zM690 425h4v1h-4zM709 425h4v1h-4zM727 425h4v1h-4zM745 425h4v1h-4zM763 425h4v1h-4zM781 425h4v1h-4zM800 425h4v1h-4zM818 425h4v1h-4zM836 425h4v1h-4zM854 425h4v1h-4zM872 425h4v1h-4zM18 428h4v1h-4zM36 428h1v1h-1zM38 428h2v1h-2zM54 428h4v1h-4zM72 428h1v1h-1zM74 428h2v1h-2zM90 428h4v1h-4zM108 428h1v1h-1zM110 428h2v1h-2zM127 428h4v1h-4zM145 428h1v1h-1zM147 428h2v1h-2zM163 428h4v1h-4zM181 428h1v1h-1zM183 428h2v1h-2zM199 428h4v1h-4zM218 428h1v1h-1zM220 428h2v1h-2zM236 428h4v1h-4zM254 428h1v1h-1zM256 428h2v1h-2zM272 428h4v1h-4zM290 428h1v1h-1zM292 428h2v1h-2zM309 428h4v1h-4zM327 428h1v1h-1zM329 428h2v1h-2zM345 428h4v1h-4zM363 428h1v1h-1zM365 428h2v1h-2zM381 428h4v1h-4zM399 428h1v1h-1zM401 428h2v1h-2zM418 428h4v1h-4zM436 428h1v1h-1zM438 428h2v1h-2zM454 428h4v1h-4zM472 428h1v1h-1zM474 428h2v1h-2zM490 428h4v1h-4zM509 428h1v1h-1zM511 428h2v1h-2zM527 428h4v1h-4zM545 428h1v1h-1zM547 428h2v1h-2zM563 428h4v1h-4zM581 428h1v1h-1zM583 428h2v1h-2zM600 428h4v1h-4zM618 428h1v1h-1zM620 428h2v1h-2zM636 428h4v1h-4zM654 428h1v1h-1zM656 428h2v1h-2zM672 428h4v1h-4zM690 428h1v1h-1zM692 428h2v1h-2zM709 428h4v1h-4zM727 428h1v1h-1zM729 428h2v1h-2zM745 428h4v1h-4zM763 428h1v1h-1zM765 428h2v1h-2zM781 428h4v1h-4zM800 428h1v1h-1zM802 428h2v1h-2zM818 428h4v1h-4zM836 428h1v1h-1zM838 428h2v1h-2zM854 428h4v1h-4zM872 428h1v1h-1zM874 428h2v1h-2zM17 429h1v1h-1zM22 429h1v1h-1zM35 429h1v1h-1zM37 429h1v1h-1zM40 429h1v1h-1zM53 429h1v1h-1zM58 429h1v1h-1zM71 429h1v1h-1zM73 429h1v1h-1zM76 429h1v1h-1zM89 429h1v1h-1zM94 429h1v1h-1zM107 429h1v1h-1zM109 429h1v1h-1zM112 429h1v1h-1zM126 429h1v1h-1zM131 429h1v1h-1zM144 429h1v1h-1zM146 429h1v1h-1zM149 429h1v1h-1zM162 429h1v1h-1zM167 429h1v1h-1zM180 429h1v1h-1zM182 429h1v1h-1zM185 429h1v1h-1zM198 429h1v1h-1zM203 429h1v1h-1zM217 429h1v1h-1zM219 429h1v1h-1zM222 429h1v1h-1zM235 429h1v1h-1zM240 429h1v1h-1zM253 429h1v1h-1zM255 429h1v1h-1zM258 429h1v1h-1zM271 429h1v1h-1zM276 429h1v1h-1zM289 429h1v1h-1zM291 429h1v1h-1zM294 429h1v1h-1zM308 429h1v1h-1zM313 429h1v1h-1zM326 429h1v1h-1zM328 429h1v1h-1zM331 429h1v1h-1zM344 429h1v1h-1zM349 429h1v1h-1zM362 429h1v1h-1zM364 429h1v1h-1zM367 429h1v1h-1zM380 429h1v1h-1zM385 429h1v1h-1zM398 429h1v1h-1zM400 429h1v1h-1zM403 429h1v1h-1zM417 429h1v1h-1zM422 429h1v1h-1zM435 429h1v1h-1zM437 429h1v1h-1zM440 429h1v1h-1zM453 429h1v1h-1zM458 429h1v1h-1zM471 429h1v1h-1zM473 429h1v1h-1zM476 429h1v1h-1zM489 429h1v1h-1zM494 429h1v1h-1zM508 429h1v1h-1zM510 429h1v1h-1zM513 429h1v1h-1zM526 429h1v1h-1zM531 429h1v1h-1zM544 429h1v1h-1zM546 429h1v1h-1zM549 429h1v1h-1zM562 429h1v1h-1zM567 429h1v1h-1zM580 429h1v1h-1zM582 429h1v1h-1zM585 429h1v1h-1zM599 429h1v1h-1zM604 429h1v1h-1zM617 429h1v1h-1zM619 429h1v1h-1zM622 429h1v1h-1zM635 429h1v1h-1zM640 429h1v1h-1zM653 429h1v1h-1zM655 429h1v1h-1zM658 429h1v1h-1zM671 429h1v1h-1zM676 429h1v1h-1zM689 429h1v1h-1zM691 429h1v1h-1zM694 429h1v1h-1zM708 429h1v1h-1zM713 429h1v1h-1zM726 429h1v1h-1zM728 429h1v1h-1zM731 429h1v1h-1zM744 429h1v1h-1zM749 429h1v1h-1zM762 429h1v1h-1zM764 429h1v1h-1zM767 429h1v1h-1zM780 429h1v1h-1zM785 429h1v1h-1zM799 429h1v1h-1zM801 429h1v1h-1zM804 429h1v1h-1zM817 429h1v1h-1zM822 429h1v1h-1zM835 429h1v1h-1zM837 429h1v1h-1zM840 429h1v1h-1zM853 429h1v1h-1zM858 429h1v1h-1zM871 429h1v1h-1zM873 429h1v1h-1zM876 429h1v1h-1zM18 430h4v1h-4zM35 430h1v1h-1zM40 430h1v1h-1zM54 430h4v1h-4zM71 430h1v1h-1zM76 430h1v1h-1zM90 430h4v1h-4zM107 430h1v1h-1zM112 430h1v1h-1zM127 430h4v1h-4zM144 430h1v1h-1zM149 430h1v1h-1zM163 430h4v1h-4zM180 430h1v1h-1zM185 430h1v1h-1zM199 430h4v1h-4zM217 430h1v1h-1zM222 430h1v1h-1zM236 430h4v1h-4zM253 430h1v1h-1zM258 430h1v1h-1zM272 430h4v1h-4zM289 430h1v1h-1zM294 430h1v1h-1zM309 430h4v1h-4zM326 430h1v1h-1zM331 430h1v1h-1zM345 430h4v1h-4zM362 430h1v1h-1zM367 430h1v1h-1zM381 430h4v1h-4zM398 430h1v1h-1zM403 430h1v1h-1zM418 430h4v1h-4zM435 430h1v1h-1zM440 430h1v1h-1zM454 430h4v1h-4zM471 430h1v1h-1zM476 430h1v1h-1zM490 430h4v1h-4zM508 430h1v1h-1zM513 430h1v1h-1zM527 430h4v1h-4zM544 430h1v1h-1zM549 430h1v1h-1zM563 430h4v1h-4zM580 430h1v1h-1zM585 430h1v1h-1zM600 430h4v1h-4zM617 430h1v1h-1zM622 430h1v1h-1zM636 430h4v1h-4zM653 430h1v1h-1zM658 430h1v1h-1zM672 430h4v1h-4zM689 430h1v1h-1zM694 430h1v1h-1zM709 430h4v1h-4zM726 430h1v1h-1zM731 430h1v1h-1zM745 430h4v1h-4zM762 430h1v1h-1zM767 430h1v1h-1zM781 430h4v1h-4zM799 430h1v1h-1zM804 430h1v1h-1zM818 430h4v1h-4zM835 430h1v1h-1zM840 430h1v1h-1zM854 430h4v1h-4zM871 430h1v1h-1zM876 430h1v1h-1zM36 431h1v1h-1zM39 431h1v1h-1zM72 431h1v1h-1zM75 431h1v1h-1zM108 431h1v1h-1zM111 431h1v1h-1zM145 431h1v1h-1zM148 431h1v1h-1zM181 431h1v1h-1zM184 431h1v1h-1zM218 431h1v1h-1zM221 431h1v1h-1zM254 431h1v1h-1zM257 431h1v1h-1zM290 431h1v1h-1zM293 431h1v1h-1zM327 431h1v1h-1zM330 431h1v1h-1zM363 431h1v1h-1zM366 431h1v1h-1zM399 431h1v1h-1zM402 431h1v1h-1zM436 431h1v1h-1zM439 431h1v1h-1zM472 431h1v1h-1zM475 431h1v1h-1zM509 431h1v1h-1zM512 431h1v1h-1zM545 431h1v1h-1zM548 431h1v1h-1zM581 431h1v1h-1zM584 431h1v1h-1zM618 431h1v1h-1zM621 431h1v1h-1zM654 431h1v1h-1zM657 431h1v1h-1zM690 431h1v1h-1zM693 431h1v1h-1zM727 431h1v1h-1zM730 431h1v1h-1zM763 431h1v1h-1zM766 431h1v1h-1zM800 431h1v1h-1zM803 431h1v1h-1zM836 431h1v1h-1zM839 431h1v1h-1zM872 431h1v1h-1zM875 431h1v1h-1zM18 434h2v1h-2zM21 434h2v1h-2zM36 434h2v1h-2zM39 434h2v1h-2zM54 434h2v1h-2zM57 434h2v1h-2zM72 434h2v1h-2zM75 434h2v1h-2zM90 434h2v1h-2zM93 434h2v1h-2zM108 434h2v1h-2zM111 434h2v1h-2zM127 434h2v1h-2zM130 434h2v1h-2zM145 434h2v1h-2zM148 434h2v1h-2zM163 434h2v1h-2zM166 434h2v1h-2zM181 434h2v1h-2zM184 434h2v1h-2zM199 434h2v1h-2zM202 434h2v1h-2zM218 434h2v1h-2zM221 434h2v1h-2zM236 434h2v1h-2zM239 434h2v1h-2zM254 434h2v1h-2zM257 434h2v1h-2zM272 434h2v1h-2zM275 434h2v1h-2zM290 434h2v1h-2zM293 434h2v1h-2zM309 434h2v1h-2zM312 434h2v1h-2zM327 434h2v1h-2zM330 434h2v1h-2zM345 434h2v1h-2zM348 434h2v1h-2zM363 434h2v1h-2zM366 434h2v1h-2zM381 434h2v1h-2zM384 434h2v1h-2zM399 434h2v1h-2zM402 434h2v1h-2zM418 434h2v1h-2zM421 434h2v1h-2zM436 434h2v1h-2zM439 434h2v1h-2zM454 434h2v1h-2zM457 434h2v1h-2zM472 434h2v1h-2zM475 434h2v1h-2zM490 434h2v1h-2zM493 434h2v1h-2zM509 434h2v1h-2zM512 434h2v1h-2zM527 434h2v1h-2zM530 434h2v1h-2zM545 434h2v1h-2zM548 434h2v1h-2zM563 434h2v1h-2zM566 434h2v1h-2zM581 434h2v1h-2zM584 434h2v1h-2zM600 434h2v1h-2zM603 434h2v1h-2zM618 434h2v1h-2zM621 434h2v1h-2zM636 434h2v1h-2zM639 434h2v1h-2zM654 434h2v1h-2zM657 434h2v1h-2zM672 434h2v1h-2zM675 434h2v1h-2zM690 434h2v1h-2zM693 434h2v1h-2zM709 434h2v1h-2zM712 434h2v1h-2zM727 434h2v1h-2zM730 434h2v1h-2zM745 434h2v1h-2zM748 434h2v1h-2zM763 434h2v1h-2zM766 434h2v1h-2zM781 434h2v1h-2zM784 434h2v1h-2zM800 434h2v1h-2zM803 434h2v1h-2zM818 434h2v1h-2zM821 434h2v1h-2zM836 434h2v1h-2zM839 434h2v1h-2zM854 434h2v1h-2zM857 434h2v1h-2zM872 434h2v1h-2zM875 434h2v1h-2zM18 435h2v1h-2zM21 435h2v1h-2zM36 435h2v1h-2zM39 435h2v1h-2zM54 435h2v1h-2zM57 435h2v1h-2zM72 435h2v1h-2zM75 435h2v1h-2zM90 435h2v1h-2zM93 435h2v1h-2zM108 435h2v1h-2zM111 435h2v1h-2zM127 435h2v1h-2zM130 435h2v1h-2zM145 435h2v1h-2zM148 435h2v1h-2zM163 435h2v1h-2zM166 435h2v1h-2zM181 435h2v1h-2zM184 435h2v1h-2zM199 435h2v1h-2zM202 435h2v1h-2zM218 435h2v1h-2zM221 435h2v1h-2zM236 435h2v1h-2zM239 435h2v1h-2zM254 435h2v1h-2zM257 435h2v1h-2zM272 435h2v1h-2zM275 435h2v1h-2zM290 435h2v1h-2zM293 435h2v1h-2zM309 435h2v1h-2zM312 435h2v1h-2zM327 435h2v1h-2zM330 435h2v1h-2zM345 435h2v1h-2zM348 435h2v1h-2zM363 435h2v1h-2zM366 435h2v1h-2zM381 435h2v1h-2zM384 435h2v1h-2zM399 435h2v1h-2zM402 435h2v1h-2zM418 435h2v1h-2zM421 435h2v1h-2zM436 435h2v1h-2zM439 435h2v1h-2zM454 435h2v1h-2zM457 435h2v1h-2zM472 435h2v1h-2zM475 435h2v1h-2zM490 435h2v1h-2zM493 435h2v1h-2zM509 435h2v1h-2zM512 435h2v1h-2zM527 435h2v1h-2zM530 435h2v1h-2zM545 435h2v1h-2zM548 435h2v1h-2zM563 435h2v1h-2zM566 435h2v1h-2zM581 435h2v1h-2zM584 435h2v1h-2zM600 435h2v1h-2zM603 435h2v1h-2zM618 435h2v1h-2zM621 435h2v1h-2zM636 435h2v1h-2zM639 435h2v1h-2zM654 435h2v1h-2zM657 435h2v1h-2zM672 435h2v1h-2zM675 435h2v1h-2zM690 435h2v1h-2zM693 435h2v1h-2zM709 435h2v1h-2zM712 435h2v1h-2zM727 435h2v1h-2zM730 435h2v1h-2zM745 435h2v1h-2zM748 435h2v1h-2zM763 435h2v1h-2zM766 435h2v1h-2zM781 435h2v1h-2zM784 435h2v1h-2zM800 435h2v1h-2zM803 435h2v1h-2zM818 435h2v1h-2zM821 435h2v1h-2zM836 435h2v1h-2zM839 435h2v1h-2zM854 435h2v1h-2zM857 435h2v1h-2zM872 435h2v1h-2zM875 435h2v1h-2zM18 438h4v1h-4zM36 438h4v1h-4zM58 438h1v1h-1zM76 438h1v1h-1zM90 438h2v1h-2zM94 438h1v1h-1zM108 438h2v1h-2zM112 438h1v1h-1zM127 438h1v1h-1zM129 438h2v1h-2zM145 438h1v1h-1zM147 438h2v1h-2zM165 438h1v1h-1zM183 438h1v1h-1zM198 438h1v1h-1zM201 438h2v1h-2zM217 438h1v1h-1zM220 438h2v1h-2zM238 438h2v1h-2zM256 438h2v1h-2zM271 438h2v1h-2zM289 438h2v1h-2zM309 438h1v1h-1zM311 438h2v1h-2zM327 438h1v1h-1zM329 438h2v1h-2zM345 438h4v1h-4zM363 438h4v1h-4zM381 438h4v1h-4zM399 438h4v1h-4zM422 438h1v1h-1zM440 438h1v1h-1zM454 438h2v1h-2zM458 438h1v1h-1zM472 438h2v1h-2zM476 438h1v1h-1zM490 438h1v1h-1zM492 438h2v1h-2zM509 438h1v1h-1zM511 438h2v1h-2zM529 438h1v1h-1zM547 438h1v1h-1zM562 438h1v1h-1zM565 438h2v1h-2zM580 438h1v1h-1zM583 438h2v1h-2zM602 438h2v1h-2zM620 438h2v1h-2zM635 438h2v1h-2zM653 438h2v1h-2zM672 438h1v1h-1zM674 438h2v1h-2zM690 438h1v1h-1zM692 438h2v1h-2zM709 438h4v1h-4zM727 438h4v1h-4zM745 438h4v1h-4zM763 438h4v1h-4zM785 438h1v1h-1zM804 438h1v1h-1zM818 438h2v1h-2zM822 438h1v1h-1zM836 438h2v1h-2zM840 438h1v1h-1zM854 438h1v1h-1zM856 438h2v1h-2zM872 438h1v1h-1zM874 438h2v1h-2zM17 439h1v1h-1zM22 439h1v1h-1zM35 439h1v1h-1zM40 439h1v1h-1zM53 439h6v1h-6zM71 439h6v1h-6zM89 439h1v1h-1zM92 439h1v1h-1zM94 439h1v1h-1zM107 439h1v1h-1zM110 439h1v1h-1zM112 439h1v1h-1zM126 439h1v1h-1zM128 439h1v1h-1zM131 439h1v1h-1zM144 439h1v1h-1zM146 439h1v1h-1zM149 439h1v1h-1zM162 439h6v1h-6zM180 439h6v1h-6zM198 439h1v1h-1zM200 439h1v1h-1zM203 439h1v1h-1zM217 439h1v1h-1zM219 439h1v1h-1zM222 439h1v1h-1zM235 439h1v1h-1zM237 439h1v1h-1zM240 439h1v1h-1zM253 439h1v1h-1zM255 439h1v1h-1zM258 439h1v1h-1zM271 439h1v1h-1zM273 439h2v1h-2zM289 439h1v1h-1zM291 439h2v1h-2zM308 439h1v1h-1zM310 439h1v1h-1zM313 439h1v1h-1zM326 439h1v1h-1zM328 439h1v1h-1zM331 439h1v1h-1zM344 439h1v1h-1zM346 439h1v1h-1zM349 439h1v1h-1zM362 439h1v1h-1zM364 439h1v1h-1zM367 439h1v1h-1zM380 439h1v1h-1zM385 439h1v1h-1zM398 439h1v1h-1zM403 439h1v1h-1zM417 439h6v1h-6zM435 439h6v1h-6zM453 439h1v1h-1zM456 439h1v1h-1zM458 439h1v1h-1zM471 439h1v1h-1zM474 439h1v1h-1zM476 439h1v1h-1zM489 439h1v1h-1zM491 439h1v1h-1zM494 439h1v1h-1zM508 439h1v1h-1zM510 439h1v1h-1zM513 439h1v1h-1zM526 439h6v1h-6zM544 439h6v1h-6zM562 439h1v1h-1zM564 439h1v1h-1zM567 439h1v1h-1zM580 439h1v1h-1zM582 439h1v1h-1zM585 439h1v1h-1zM599 439h1v1h-1zM601 439h1v1h-1zM604 439h1v1h-1zM617 439h1v1h-1zM619 439h1v1h-1zM622 439h1v1h-1zM635 439h1v1h-1zM637 439h2v1h-2zM653 439h1v1h-1zM655 439h2v1h-2zM671 439h1v1h-1zM673 439h1v1h-1zM676 439h1v1h-1zM689 439h1v1h-1zM691 439h1v1h-1zM694 439h1v1h-1zM708 439h1v1h-1zM710 439h1v1h-1zM713 439h1v1h-1zM726 439h1v1h-1zM728 439h1v1h-1zM731 439h1v1h-1zM744 439h1v1h-1zM749 439h1v1h-1zM762 439h1v1h-1zM767 439h1v1h-1zM780 439h6v1h-6zM799 439h6v1h-6zM817 439h1v1h-1zM820 439h1v1h-1zM822 439h1v1h-1zM835 439h1v1h-1zM838 439h1v1h-1zM840 439h1v1h-1zM853 439h1v1h-1zM855 439h1v1h-1zM858 439h1v1h-1zM871 439h1v1h-1zM873 439h1v1h-1zM876 439h1v1h-1zM18 440h4v1h-4zM36 440h4v1h-4zM54 440h1v1h-1zM58 440h1v1h-1zM72 440h1v1h-1zM76 440h1v1h-1zM89 440h1v1h-1zM93 440h2v1h-2zM107 440h1v1h-1zM111 440h2v1h-2zM126 440h1v1h-1zM131 440h1v1h-1zM144 440h1v1h-1zM149 440h1v1h-1zM163 440h1v1h-1zM165 440h1v1h-1zM181 440h1v1h-1zM183 440h1v1h-1zM198 440h1v1h-1zM200 440h1v1h-1zM203 440h1v1h-1zM217 440h1v1h-1zM219 440h1v1h-1zM222 440h1v1h-1zM235 440h1v1h-1zM238 440h1v1h-1zM240 440h1v1h-1zM253 440h1v1h-1zM256 440h1v1h-1zM258 440h1v1h-1zM271 440h1v1h-1zM275 440h2v1h-2zM289 440h1v1h-1zM293 440h2v1h-2zM308 440h1v1h-1zM310 440h1v1h-1zM313 440h1v1h-1zM326 440h1v1h-1zM328 440h1v1h-1zM331 440h1v1h-1zM344 440h1v1h-1zM347 440h1v1h-1zM349 440h1v1h-1zM362 440h1v1h-1zM365 440h1v1h-1zM367 440h1v1h-1zM381 440h4v1h-4zM399 440h4v1h-4zM418 440h1v1h-1zM422 440h1v1h-1zM436 440h1v1h-1zM440 440h1v1h-1zM453 440h1v1h-1zM457 440h2v1h-2zM471 440h1v1h-1zM475 440h2v1h-2zM489 440h1v1h-1zM494 440h1v1h-1zM508 440h1v1h-1zM513 440h1v1h-1zM527 440h1v1h-1zM529 440h1v1h-1zM545 440h1v1h-1zM547 440h1v1h-1zM562 440h1v1h-1zM564 440h1v1h-1zM567 440h1v1h-1zM580 440h1v1h-1zM582 440h1v1h-1zM585 440h1v1h-1zM599 440h1v1h-1zM602 440h1v1h-1zM604 440h1v1h-1zM617 440h1v1h-1zM620 440h1v1h-1zM622 440h1v1h-1zM635 440h1v1h-1zM639 440h2v1h-2zM653 440h1v1h-1zM657 440h2v1h-2zM671 440h1v1h-1zM673 440h1v1h-1zM676 440h1v1h-1zM689 440h1v1h-1zM691 440h1v1h-1zM694 440h1v1h-1zM708 440h1v1h-1zM711 440h1v1h-1zM713 440h1v1h-1zM726 440h1v1h-1zM729 440h1v1h-1zM731 440h1v1h-1zM745 440h4v1h-4zM763 440h4v1h-4zM781 440h1v1h-1zM785 440h1v1h-1zM800 440h1v1h-1zM804 440h1v1h-1zM817 440h1v1h-1zM821 440h2v1h-2zM835 440h1v1h-1zM839 440h2v1h-2zM853 440h1v1h-1zM858 440h1v1h-1zM871 440h1v1h-1zM876 440h1v1h-1zM90 441h1v1h-1zM94 441h1v1h-1zM108 441h1v1h-1zM112 441h1v1h-1zM127 441h1v1h-1zM130 441h1v1h-1zM145 441h1v1h-1zM148 441h1v1h-1zM164 441h2v1h-2zM182 441h2v1h-2zM198 441h3v1h-3zM202 441h1v1h-1zM217 441h3v1h-3zM221 441h1v1h-1zM236 441h4v1h-4zM254 441h4v1h-4zM271 441h1v1h-1zM289 441h1v1h-1zM309 441h1v1h-1zM311 441h2v1h-2zM327 441h1v1h-1zM329 441h2v1h-2zM345 441h2v1h-2zM363 441h2v1h-2zM454 441h1v1h-1zM458 441h1v1h-1zM472 441h1v1h-1zM476 441h1v1h-1zM490 441h1v1h-1zM493 441h1v1h-1zM509 441h1v1h-1zM512 441h1v1h-1zM528 441h2v1h-2zM546 441h2v1h-2zM562 441h3v1h-3zM566 441h1v1h-1zM580 441h3v1h-3zM584 441h1v1h-1zM600 441h4v1h-4zM618 441h4v1h-4zM635 441h1v1h-1zM653 441h1v1h-1zM672 441h1v1h-1zM674 441h2v1h-2zM690 441h1v1h-1zM692 441h2v1h-2zM709 441h2v1h-2zM727 441h2v1h-2zM818 441h1v1h-1zM822 441h1v1h-1zM836 441h1v1h-1zM840 441h1v1h-1zM854 441h1v1h-1zM857 441h1v1h-1zM872 441h1v1h-1zM875 441h1v1h-1zM18 443h4v1h-4zM36 443h4v1h-4zM54 443h4v1h-4zM72 443h4v1h-4zM90 443h4v1h-4zM108 443h4v1h-4zM127 443h4v1h-4zM145 443h4v1h-4zM163 443h4v1h-4zM181 443h4v1h-4zM199 443h4v1h-4zM218 443h4v1h-4zM236 443h4v1h-4zM254 443h4v1h-4zM272 443h4v1h-4zM290 443h4v1h-4zM309 443h4v1h-4zM327 443h4v1h-4zM345 443h4v1h-4zM363 443h4v1h-4zM385 443h1v1h-1zM403 443h1v1h-1zM422 443h1v1h-1zM440 443h1v1h-1zM458 443h1v1h-1zM476 443h1v1h-1zM494 443h1v1h-1zM513 443h1v1h-1zM531 443h1v1h-1zM549 443h1v1h-1zM567 443h1v1h-1zM585 443h1v1h-1zM604 443h1v1h-1zM622 443h1v1h-1zM640 443h1v1h-1zM658 443h1v1h-1zM676 443h1v1h-1zM694 443h1v1h-1zM713 443h1v1h-1zM731 443h1v1h-1zM745 443h2v1h-2zM749 443h1v1h-1zM763 443h2v1h-2zM767 443h1v1h-1zM781 443h2v1h-2zM785 443h1v1h-1zM800 443h2v1h-2zM804 443h1v1h-1zM818 443h2v1h-2zM822 443h1v1h-1zM836 443h2v1h-2zM840 443h1v1h-1zM854 443h2v1h-2zM858 443h1v1h-1zM872 443h2v1h-2zM876 443h1v1h-1zM17 444h1v1h-1zM22 444h1v1h-1zM35 444h1v1h-1zM40 444h1v1h-1zM53 444h1v1h-1zM58 444h1v1h-1zM71 444h1v1h-1zM76 444h1v1h-1zM89 444h1v1h-1zM94 444h1v1h-1zM107 444h1v1h-1zM112 444h1v1h-1zM126 444h1v1h-1zM131 444h1v1h-1zM144 444h1v1h-1zM149 444h1v1h-1zM162 444h1v1h-1zM167 444h1v1h-1zM180 444h1v1h-1zM185 444h1v1h-1zM198 444h1v1h-1zM203 444h1v1h-1zM217 444h1v1h-1zM222 444h1v1h-1zM235 444h1v1h-1zM240 444h1v1h-1zM253 444h1v1h-1zM258 444h1v1h-1zM271 444h1v1h-1zM276 444h1v1h-1zM289 444h1v1h-1zM294 444h1v1h-1zM308 444h1v1h-1zM313 444h1v1h-1zM326 444h1v1h-1zM331 444h1v1h-1zM344 444h1v1h-1zM349 444h1v1h-1zM362 444h1v1h-1zM367 444h1v1h-1zM380 444h6v1h-6zM398 444h6v1h-6zM417 444h6v1h-6zM435 444h6v1h-6zM453 444h6v1h-6zM471 444h6v1h-6zM489 444h6v1h-6zM508 444h6v1h-6zM526 444h6v1h-6zM544 444h6v1h-6zM562 444h6v1h-6zM580 444h6v1h-6zM599 444h6v1h-6zM617 444h6v1h-6zM635 444h6v1h-6zM653 444h6v1h-6zM671 444h6v1h-6zM689 444h6v1h-6zM708 444h6v1h-6zM726 444h6v1h-6zM744 444h1v1h-1zM747 444h1v1h-1zM749 444h1v1h-1zM762 444h1v1h-1zM765 444h1v1h-1zM767 444h1v1h-1zM780 444h1v1h-1zM783 444h1v1h-1zM785 444h1v1h-1zM799 444h1v1h-1zM802 444h1v1h-1zM804 444h1v1h-1zM817 444h1v1h-1zM820 444h1v1h-1zM822 444h1v1h-1zM835 444h1v1h-1zM838 444h1v1h-1zM840 444h1v1h-1zM853 444h1v1h-1zM856 444h1v1h-1zM858 444h1v1h-1zM871 444h1v1h-1zM874 444h1v1h-1zM876 444h1v1h-1zM18 445h4v1h-4zM36 445h4v1h-4zM54 445h4v1h-4zM72 445h4v1h-4zM90 445h4v1h-4zM108 445h4v1h-4zM127 445h4v1h-4zM145 445h4v1h-4zM163 445h4v1h-4zM181 445h4v1h-4zM199 445h4v1h-4zM218 445h4v1h-4zM236 445h4v1h-4zM254 445h4v1h-4zM272 445h4v1h-4zM290 445h4v1h-4zM309 445h4v1h-4zM327 445h4v1h-4zM345 445h4v1h-4zM363 445h4v1h-4zM381 445h1v1h-1zM385 445h1v1h-1zM399 445h1v1h-1zM403 445h1v1h-1zM418 445h1v1h-1zM422 445h1v1h-1zM436 445h1v1h-1zM440 445h1v1h-1zM454 445h1v1h-1zM458 445h1v1h-1zM472 445h1v1h-1zM476 445h1v1h-1zM490 445h1v1h-1zM494 445h1v1h-1zM509 445h1v1h-1zM513 445h1v1h-1zM527 445h1v1h-1zM531 445h1v1h-1zM545 445h1v1h-1zM549 445h1v1h-1zM563 445h1v1h-1zM567 445h1v1h-1zM581 445h1v1h-1zM585 445h1v1h-1zM600 445h1v1h-1zM604 445h1v1h-1zM618 445h1v1h-1zM622 445h1v1h-1zM636 445h1v1h-1zM640 445h1v1h-1zM654 445h1v1h-1zM658 445h1v1h-1zM672 445h1v1h-1zM676 445h1v1h-1zM690 445h1v1h-1zM694 445h1v1h-1zM709 445h1v1h-1zM713 445h1v1h-1zM727 445h1v1h-1zM731 445h1v1h-1zM744 445h1v1h-1zM748 445h2v1h-2zM762 445h1v1h-1zM766 445h2v1h-2zM780 445h1v1h-1zM784 445h2v1h-2zM799 445h1v1h-1zM803 445h2v1h-2zM817 445h1v1h-1zM821 445h2v1h-2zM835 445h1v1h-1zM839 445h2v1h-2zM853 445h1v1h-1zM857 445h2v1h-2zM871 445h1v1h-1zM875 445h2v1h-2zM745 446h1v1h-1zM749 446h1v1h-1zM763 446h1v1h-1zM767 446h1v1h-1zM781 446h1v1h-1zM785 446h1v1h-1zM800 446h1v1h-1zM804 446h1v1h-1zM818 446h1v1h-1zM822 446h1v1h-1zM836 446h1v1h-1zM840 446h1v1h-1zM854 446h1v1h-1zM858 446h1v1h-1zM872 446h1v1h-1zM876 446h1v1h-1z" fill="#000"/><rect x="40" y="36" width="11" height="2" fill="#ff0000"/><path d="M868 22h2v1h-2zM843 23h3v1h-3zM848 23h5v1h-5zM862 23h3v1h-3zM867 23h1v1h-1zM870 23h1v1h-1zM873 23h3v1h-3zM842 24h1v1h-1zM846 24h1v1h-1zM848 24h1v1h-1zM861 24h1v1h-1zM867 24h1v1h-1zM870 24h1v1h-1zM872 24h1v1h-1zM876 24h1v1h-1zM812 25h2v1h-2zM815 25h1v1h-1zM819 25h3v1h-3zM824 25h1v1h-1zM828 25h1v1h-1zM832 25h2v1h-2zM846 25h1v1h-1zM848 25h4v1h-4zM860 25h1v1h-1zM868 25h2v1h-2zM872 25h1v1h-1zM812 26h1v1h-1zM814 26h1v1h-1zM816 26h1v1h-1zM822 26h1v1h-1zM825 26h1v1h-1zM827 26h1v1h-1zM832 26h2v1h-2zM845 26h1v1h-1zM848 26h1v1h-1zM852 26h1v1h-1zM860 26h4v1h-4zM872 26h1v1h-1zM812 27h1v1h-1zM814 27h1v1h-1zM816 27h1v1h-1zM819 27h4v1h-4zM826 27h1v1h-1zM844 27h1v1h-1zM852 27h1v1h-1zM860 27h1v1h-1zM864 27h1v1h-1zM872 27h1v1h-1zM812 28h1v1h-1zM814 28h1v1h-1zM816 28h1v1h-1zM818 28h1v1h-1zM822 28h1v1h-1zM826 28h1v1h-1zM843 28h1v1h-1zM852 28h1v1h-1zM860 28h1v1h-1zM864 28h1v1h-1zM872 28h1v1h-1zM812 29h1v1h-1zM814 29h1v1h-1zM816 29h1v1h-1zM818 29h1v1h-1zM821 29h2v1h-2zM825 29h1v1h-1zM827 29h1v1h-1zM832 29h2v1h-2zM842 29h1v1h-1zM848 29h1v1h-1zM852 29h1v1h-1zM856 29h2v1h-2zM860 29h1v1h-1zM864 29h1v1h-1zM872 29h1v1h-1zM876 29h1v1h-1zM812 30h1v1h-1zM816 30h1v1h-1zM819 30h2v1h-2zM822 30h1v1h-1zM824 30h1v1h-1zM828 30h1v1h-1zM832 30h2v1h-2zM842 30h5v1h-5zM849 30h3v1h-3zM856 30h2v1h-2zM861 30h3v1h-3zM873 30h3v1h-3z" fill="#ff0000"/><path d="M868 32h2v1h-2zM820 33h1v1h-1zM849 33h3v1h-3zM861 33h3v1h-3zM867 33h1v1h-1zM870 33h1v1h-1zM873 33h3v1h-3zM848 34h1v1h-1zM852 34h1v1h-1zM860 34h1v1h-1zM864 34h1v1h-1zM867 34h1v1h-1zM870 34h1v1h-1zM872 34h1v1h-1zM876 34h1v1h-1zM812 35h2v1h-2zM815 35h1v1h-1zM819 35h2v1h-2zM824 35h1v1h-1zM826 35h2v1h-2zM832 35h2v1h-2zM852 35h1v1h-1zM864 35h1v1h-1zM868 35h2v1h-2zM872 35h1v1h-1zM812 36h1v1h-1zM814 36h1v1h-1zM816 36h1v1h-1zM820 36h1v1h-1zM824 36h2v1h-2zM828 36h1v1h-1zM832 36h2v1h-2zM851 36h1v1h-1zM862 36h2v1h-2zM872 36h1v1h-1zM812 37h1v1h-1zM814 37h1v1h-1zM816 37h1v1h-1zM820 37h1v1h-1zM824 37h1v1h-1zM828 37h1v1h-1zM850 37h1v1h-1zM864 37h1v1h-1zM872 37h1v1h-1zM812 38h1v1h-1zM814 38h1v1h-1zM816 38h1v1h-1zM820 38h1v1h-1zM824 38h1v1h-1zM828 38h1v1h-1zM849 38h1v1h-1zM864 38h1v1h-1zM872 38h1v1h-1zM812 39h1v1h-1zM814 39h1v1h-1zM816 39h1v1h-1zM820 39h1v1h-1zM824 39h1v1h-1zM828 39h1v1h-1zM832 39h2v1h-2zM848 39h1v1h-1zM856 39h2v1h-2zM860 39h1v1h-1zM864 39h1v1h-1zM872 39h1v1h-1zM876 39h1v1h-1zM812 40h1v1h-1zM816 40h1v1h-1zM819 40h3v1h-3zM824 40h1v1h-1zM828 40h1v1h-1zM832 40h2v1h-2zM848 40h5v1h-5zM856 40h2v1h-2zM861 40h3v1h-3zM873 40h3v1h-3z" fill="#0000ff"/></svg></body></html>
